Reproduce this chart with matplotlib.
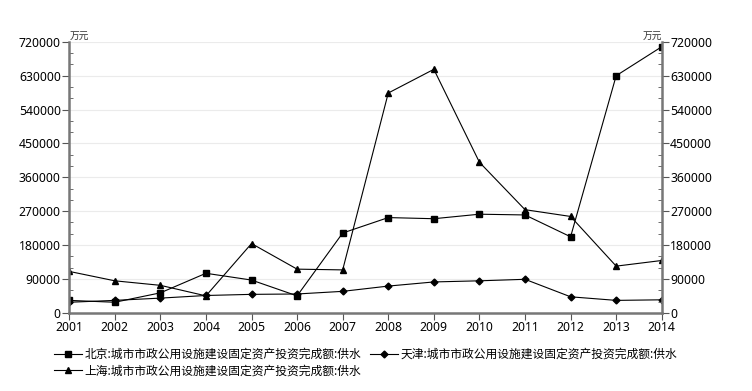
import matplotlib
matplotlib.use('Agg')
import matplotlib.pyplot as plt
from matplotlib.ticker import MultipleLocator

plt.rcParams['font.family'] = ['Noto Sans CJK SC', 'DejaVu Sans']

years = [2001, 2002, 2003, 2004, 2005, 2006, 2007, 2008, 2009, 2010, 2011, 2012, 2013, 2014]
beijing = [33000, 28000, 53000, 105000, 87000, 45000, 212000, 253000, 250000, 262000, 260000, 202000, 630000, 707000]
tianjin = [28000, 33000, 39000, 46000, 49000, 50000, 57000, 71000, 82000, 85000, 89000, 42500, 33000, 34500]
shanghai = [110000, 85000, 73000, 45000, 184000, 116000, 114000, 584000, 647000, 400000, 274000, 256000, 124000, 139000]

names = ['北京:城市市政公用设施建设固定资产投资完成额:供水',
         '天津:城市市政公用设施建设固定资产投资完成额:供水',
         '上海:城市市政公用设施建设固定资产投资完成额:供水']

fig = plt.figure(figsize=(7.52, 3.91), dpi=100)
ax = fig.add_axes([0.092, 0.200, 0.788, 0.693])

l1, = ax.plot(years, beijing, color='black', lw=0.8, marker='s', ms=4.5, label=names[0])
l2, = ax.plot(years, tianjin, color='black', lw=0.8, marker='D', ms=3.5, label=names[1])
l3, = ax.plot(years, shanghai, color='black', lw=0.8, marker='^', ms=5, label=names[2])

ax.set_xlim(2001, 2014)
ax.set_ylim(0, 720000)
ax.set_xticks(years)
ax.yaxis.set_major_locator(MultipleLocator(90000))
ax.yaxis.set_minor_locator(MultipleLocator(30000))
ax.grid(axis='y', color='#ebebeb', lw=0.8)
ax.set_axisbelow(True)

ax2 = ax.twinx()
ax2.set_ylim(0, 720000)
ax2.yaxis.set_major_locator(MultipleLocator(90000))
ax2.yaxis.set_minor_locator(MultipleLocator(30000))

for a in (ax, ax2):
    for s in a.spines.values():
        s.set_visible(False)
ax.spines['left'].set_visible(True)
ax.spines['bottom'].set_visible(True)
ax2.spines['right'].set_visible(True)
for s in (ax.spines['left'], ax.spines['bottom'], ax2.spines['right']):
    s.set_color('#777777')
    s.set_linewidth(1.8)

ax.tick_params(axis='both', which='major', direction='out', length=5, color='#555555', labelsize=8.8, pad=1)
ax.tick_params(axis='y', which='minor', direction='in', length=3, color='#555555')
ax2.tick_params(axis='y', which='major', direction='out', length=5, color='#555555', labelsize=8.8, pad=1)
ax2.tick_params(axis='y', which='minor', direction='in', length=3, color='#555555')
for lab in ax.get_xticklabels() + ax.get_yticklabels() + ax2.get_yticklabels():
    lab.set_fontfamily('Noto Sans')

ax.text(0.0, 1.005, '万元', transform=ax.transAxes, fontsize=7, ha='left', va='bottom', color='#333333')
ax2.text(1.0, 1.005, '万元', transform=ax2.transAxes, fontsize=7, ha='right', va='bottom', color='#333333')

# column-wise fill: Beijing/Shanghai in first column, Tianjin in second
fig.legend([l1, l3, l2], [names[0], names[2], names[1]],
           loc='upper left', bbox_to_anchor=(0.064, 0.125), ncol=2, frameon=False,
           fontsize=8.5, handlelength=2.4, handletextpad=0.2, columnspacing=0.7,
           labelspacing=0.3, borderpad=0)

fig.savefig('out.png', dpi=100)
